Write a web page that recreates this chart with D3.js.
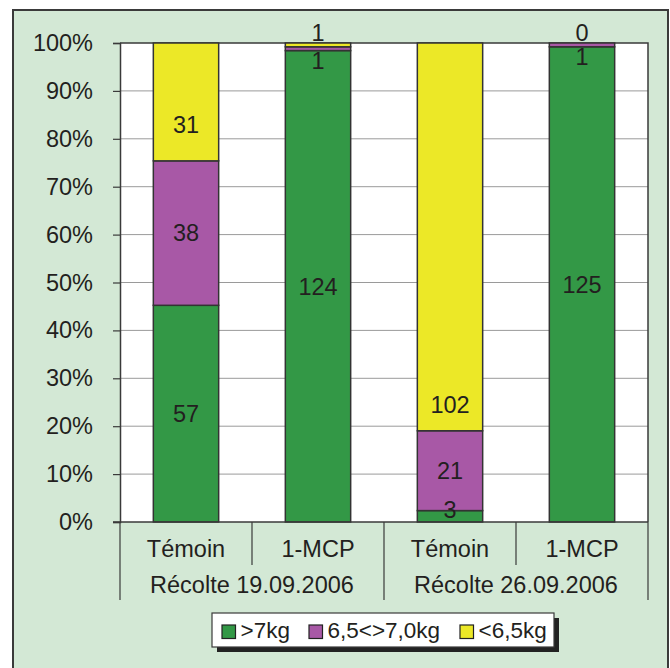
<!DOCTYPE html>
<html>
<head>
<meta charset="utf-8">
<script src="https://cdn.jsdelivr.net/npm/d3@7"></script>
<style>
  body { margin: 0; background: #fff; }
  text { font-family: "Liberation Sans", Arial, sans-serif; fill: #231f20; }
</style>
</head>
<body>
<div id="chart"></div>
<script>
"use strict";

// == data ==
var groups = ["Récolte 19.09.2006", "Récolte 26.09.2006"];
var treatments = ["Témoin", "1-MCP", "Témoin", "1-MCP"];
var seriesNames = [">7kg", "6,5<>7,0kg", "<6,5kg"];
var over7 = [57, 124, 3, 125];
var between = [38, 1, 21, 1];
var under65 = [31, 1, 102, 0];
var yTicks = [0, 0.1, 0.2, 0.3, 0.4, 0.5, 0.6, 0.7, 0.8, 0.9, 1];
var colors = ["#339846", "#a858a6", "#ece827"];

// labels that were moved by hand in the original (px, downwards)
var labelNudge = { "0-2": 23, "2-2": 168 };

var width = 670, height = 668;
var plot = { left: 120, right: 648, top: 43, bottom: 522 };
var fontSize = "23.5px";

var svg = d3.select("#chart").append("svg")
    .attr("width", width)
    .attr("height", height);

// frame
svg.append("rect")
    .attr("x", 13).attr("y", 10)
    .attr("width", 655).attr("height", 668)
    .style("fill", "#d3e8d5")
    .style("stroke", "#3a3a3a")
    .style("stroke-width", 2);

var rows = treatments.map(function(t, i) {
  var total = over7[i] + between[i] + under65[i];
  return { key: i, a: over7[i] / total, b: between[i] / total, c: under65[i] / total,
           raw: [over7[i], between[i], under65[i]] };
});

var x = d3.scaleBand()
    .domain(d3.range(treatments.length))
    .range([plot.left, plot.right])
    .padding(0);

var y = d3.scaleLinear()
    .domain([0, 1])
    .range([plot.bottom, plot.top]);

var barW = x.bandwidth() * 0.495;

// plot area
svg.append("rect")
    .attr("x", plot.left).attr("y", plot.top)
    .attr("width", plot.right - plot.left).attr("height", plot.bottom - plot.top)
    .style("fill", "#fff");

// grid
svg.append("g").selectAll("line")
    .data(yTicks.slice(1, -1))
    .enter().append("line")
    .attr("x1", plot.left).attr("x2", plot.right)
    .attr("y1", function(d) { return y(d); })
    .attr("y2", function(d) { return y(d); })
    .style("stroke", "#9a9a9a").style("stroke-width", 1);

// plot border top/right
svg.append("path")
    .attr("d", "M" + plot.left + "," + plot.top + "H" + plot.right + "V" + plot.bottom)
    .style("fill", "none").style("stroke", "#3a3a3a").style("stroke-width", 1.5);

// y axis
var yAxis = svg.append("g")
    .attr("transform", "translate(" + plot.left + ",0)")
    .call(d3.axisLeft(y).tickValues(yTicks).tickSize(7).tickPadding(20)
      .tickFormat(function(d) { return Math.round(d * 100) + "%"; }));
yAxis.select(".domain").style("stroke", "#3a3a3a").style("stroke-width", 1.5);
yAxis.selectAll(".tick line").style("stroke", "#3a3a3a").style("stroke-width", 1.2);
yAxis.selectAll(".tick text")
    .style("font-size", fontSize)
    .style("font-family", "'Liberation Sans', Arial, sans-serif")
    .style("fill", "#231f20");

// stacked bars
var stack = d3.stack().keys(["a", "b", "c"]);
var stacked = stack(rows);

var layer = svg.append("g").selectAll("g")
    .data(stacked)
    .enter().append("g")
    .style("fill", function(d, i) { return colors[i]; });

layer.selectAll("rect")
    .data(function(d) { return d; })
    .enter().append("rect")
    .attr("x", function(d) { return x(d.data.key) + (x.bandwidth() - barW) / 2; })
    .attr("width", barW)
    .attr("y", function(d) { return y(d[1]); })
    .attr("height", function(d) { return y(d[0]) - y(d[1]); })
    .style("stroke", "#333")
    .style("stroke-width", 1.5);

// value labels
stacked.forEach(function(s, si) {
  s.forEach(function(d) {
    var frac = d[1] - d[0];
    var cy = (y(d[0]) + y(d[1])) / 2;
    if (frac < 0.03 && si === 2) cy = plot.top - 10;
    else if (frac < 0.03 && si === 1) cy = y(d[0]) + 10;
    else if (frac < 0.03 && si === 0) cy = y(d[1]) - 1;
    cy += labelNudge[d.data.key + "-" + si] || 0;
    svg.append("text")
        .attr("x", x(d.data.key) + x.bandwidth() / 2)
        .attr("y", cy)
        .attr("dy", "0.35em")
        .attr("text-anchor", "middle")
        .style("font-size", fontSize)
        .text(d.data.raw[si]);
  });
});

// bottom axis line
svg.append("line")
    .attr("x1", plot.left - 7).attr("x2", plot.right)
    .attr("y1", plot.bottom).attr("y2", plot.bottom)
    .style("stroke", "#3a3a3a").style("stroke-width", 1.5);

// category separators
var seps = d3.range(treatments.length + 1);
svg.append("g").selectAll("line")
    .data(seps)
    .enter().append("line")
    .attr("x1", function(i) { return plot.left + i * x.bandwidth(); })
    .attr("x2", function(i) { return plot.left + i * x.bandwidth(); })
    .attr("y1", plot.bottom)
    .attr("y2", function(i) { return i % 2 === 0 ? 600 : 565; })
    .style("stroke", "#3a3a3a").style("stroke-width", 1.2);

svg.append("g").selectAll("text")
    .data(treatments)
    .enter().append("text")
    .attr("x", function(d, i) { return x(i) + x.bandwidth() / 2; })
    .attr("y", 557)
    .attr("text-anchor", "middle")
    .style("font-size", fontSize)
    .text(function(d) { return d; });

svg.append("g").selectAll("text")
    .data(groups)
    .enter().append("text")
    .attr("x", function(d, i) { return plot.left + (i * 2 + 1) * x.bandwidth(); })
    .attr("y", 593)
    .attr("text-anchor", "middle")
    .style("font-size", fontSize)
    .text(function(d) { return d; });

// legend
var legend = svg.append("g").attr("transform", "translate(212,613)");
var lw = 342, lh = 34;
legend.append("rect")
    .attr("x", 5).attr("y", 5).attr("width", lw).attr("height", lh)
    .style("fill", "#222");
legend.append("rect")
    .attr("x", 0).attr("y", 0).attr("width", lw).attr("height", lh)
    .style("fill", "#fff").style("stroke", "#3a3a3a").style("stroke-width", 1.2);

var itemX = [10, 97, 248];
seriesNames.forEach(function(name, i) {
  legend.append("rect")
      .attr("x", itemX[i]).attr("y", 12)
      .attr("width", 13.5).attr("height", 13.5)
      .style("fill", colors[i]).style("stroke", "#222").style("stroke-width", 1.2);
  legend.append("text")
      .attr("x", itemX[i] + 18.5).attr("y", 25)
      .style("font-size", "22.5px")
      .text(name);
});
</script>
</body>
</html>
